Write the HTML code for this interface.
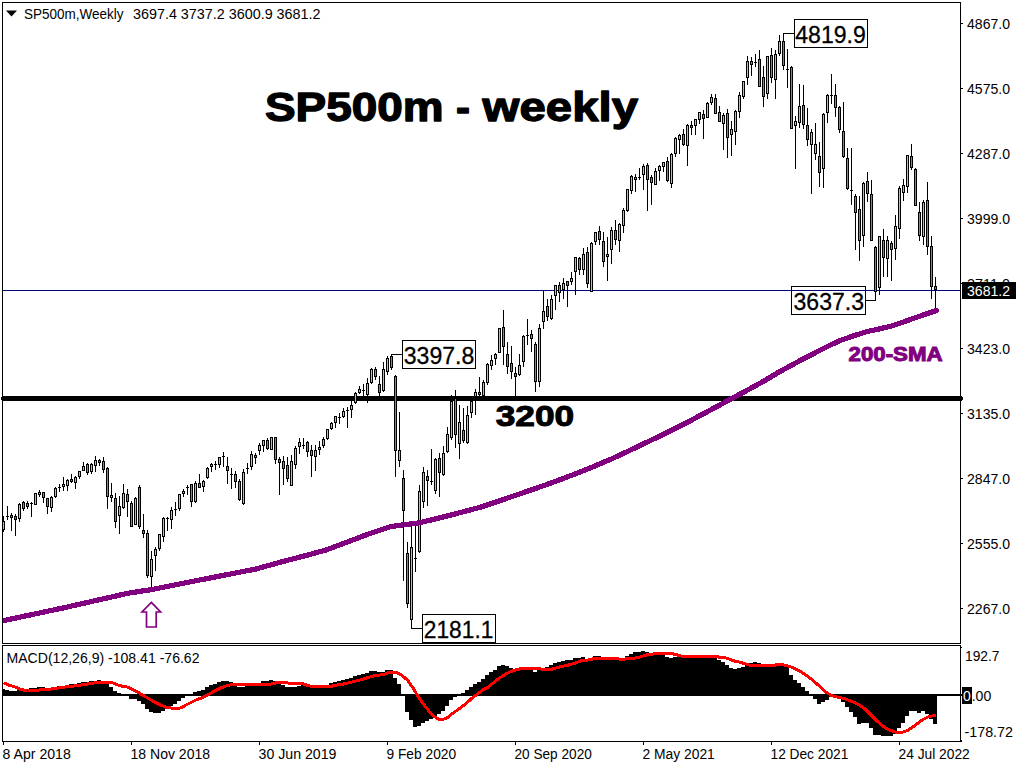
<!DOCTYPE html><html><head><meta charset="utf-8"><title>SP500m weekly</title>
<style>html,body{margin:0;padding:0;background:#fff;width:1024px;height:768px;overflow:hidden}svg{display:block}text{font-family:"Liberation Sans",sans-serif}</style></head><body>
<svg width="1024" height="768" viewBox="0 0 1024 768">
<rect x="0" y="0" width="1024" height="768" fill="#fff"/>
<g shape-rendering="crispEdges" fill="#000">
<rect x="2" y="2" width="959" height="1"/><rect x="2" y="2" width="1" height="642"/><rect x="960" y="2" width="1" height="642"/><rect x="2" y="643" width="959" height="1"/>
<rect x="2" y="645" width="959" height="1"/><rect x="2" y="645" width="1" height="97"/><rect x="960" y="645" width="1" height="97"/><rect x="2" y="741" width="959" height="1"/>
<rect x="961" y="23" width="2" height="1"/>
<rect x="961" y="88" width="2" height="1"/>
<rect x="961" y="153" width="2" height="1"/>
<rect x="961" y="218" width="2" height="1"/>
<rect x="961" y="283" width="2" height="1"/>
<rect x="961" y="348" width="2" height="1"/>
<rect x="961" y="413" width="2" height="1"/>
<rect x="961" y="478" width="2" height="1"/>
<rect x="961" y="543" width="2" height="1"/>
<rect x="961" y="608" width="2" height="1"/>
<rect x="961" y="647" width="1" height="1"/><rect x="961" y="740" width="1" height="2"/><rect x="961" y="694" width="1" height="2"/>
<rect x="3" y="742" width="1" height="3"/>
<rect x="131" y="742" width="1" height="3"/>
<rect x="259" y="742" width="1" height="3"/>
<rect x="387" y="742" width="1" height="3"/>
<rect x="515" y="742" width="1" height="3"/>
<rect x="643" y="742" width="1" height="3"/>
<rect x="771" y="742" width="1" height="3"/>
<rect x="899" y="742" width="1" height="3"/>
</g>
<g shape-rendering="crispEdges">
<rect x="2" y="396" width="960" height="5" fill="#000"/><rect x="1" y="397" width="962" height="3" fill="#000"/>
<rect x="3" y="290" width="957" height="1" fill="#000080"/>
</g>
<text x="264.9" y="121" font-size="40" font-weight="bold" lengthAdjust="spacingAndGlyphs" stroke="#000" stroke-width="1.3" stroke-linejoin="round" textLength="178.7">SP500m</text>
<text x="455.9" y="121" font-size="40" font-weight="bold" lengthAdjust="spacingAndGlyphs" stroke="#000" stroke-width="1.3" stroke-linejoin="round" textLength="14">-</text>
<text x="482.6" y="121" font-size="40" font-weight="bold" lengthAdjust="spacingAndGlyphs" stroke="#000" stroke-width="1.3" stroke-linejoin="round" textLength="155.5">weekly</text>
<g shape-rendering="crispEdges" fill="#000"><rect x="3" y="516" width="1" height="16"/><rect x="2" y="521" width="3" height="9"/><rect x="7" y="506" width="1" height="14"/><rect x="6" y="516" width="3" height="1"/><rect x="11" y="513" width="1" height="18"/><rect x="10" y="515" width="3" height="3"/><rect x="15" y="514" width="1" height="22"/><rect x="14" y="516" width="3" height="4"/><rect x="19" y="503" width="1" height="19"/><rect x="18" y="504" width="3" height="15"/><rect x="23" y="501" width="1" height="10"/><rect x="22" y="502" width="3" height="7"/><rect x="27" y="501" width="1" height="8"/><rect x="26" y="503" width="3" height="4"/><rect x="31" y="502" width="1" height="15"/><rect x="30" y="503" width="3" height="1"/><rect x="35" y="493" width="1" height="12"/><rect x="34" y="493" width="3" height="12"/><rect x="39" y="490" width="1" height="7"/><rect x="38" y="492" width="3" height="3"/><rect x="43" y="492" width="1" height="11"/><rect x="42" y="492" width="3" height="6"/><rect x="47" y="498" width="1" height="16"/><rect x="46" y="498" width="3" height="9"/><rect x="51" y="496" width="1" height="16"/><rect x="50" y="497" width="3" height="11"/><rect x="55" y="487" width="1" height="11"/><rect x="54" y="488" width="3" height="9"/><rect x="59" y="484" width="1" height="8"/><rect x="58" y="487" width="3" height="1"/><rect x="63" y="477" width="1" height="14"/><rect x="62" y="484" width="3" height="3"/><rect x="67" y="479" width="1" height="12"/><rect x="66" y="480" width="3" height="6"/><rect x="71" y="474" width="1" height="9"/><rect x="70" y="479" width="3" height="3"/><rect x="75" y="476" width="1" height="13"/><rect x="74" y="477" width="3" height="6"/><rect x="79" y="471" width="1" height="8"/><rect x="78" y="471" width="3" height="6"/><rect x="83" y="462" width="1" height="9"/><rect x="82" y="466" width="3" height="5"/><rect x="87" y="463" width="1" height="12"/><rect x="86" y="464" width="3" height="9"/><rect x="91" y="463" width="1" height="11"/><rect x="90" y="464" width="3" height="8"/><rect x="95" y="456" width="1" height="16"/><rect x="94" y="460" width="3" height="6"/><rect x="99" y="459" width="1" height="7"/><rect x="98" y="460" width="3" height="3"/><rect x="103" y="457" width="1" height="16"/><rect x="102" y="461" width="3" height="9"/><rect x="107" y="467" width="1" height="42"/><rect x="106" y="468" width="3" height="29"/><rect x="111" y="483" width="1" height="19"/><rect x="110" y="495" width="3" height="3"/><rect x="115" y="493" width="1" height="35"/><rect x="114" y="498" width="3" height="24"/><rect x="119" y="496" width="1" height="38"/><rect x="118" y="506" width="3" height="10"/><rect x="123" y="484" width="1" height="25"/><rect x="122" y="493" width="3" height="15"/><rect x="127" y="489" width="1" height="28"/><rect x="126" y="494" width="3" height="8"/><rect x="131" y="501" width="1" height="26"/><rect x="130" y="503" width="3" height="24"/><rect x="135" y="497" width="1" height="28"/><rect x="134" y="498" width="3" height="27"/><rect x="139" y="485" width="1" height="44"/><rect x="138" y="487" width="3" height="40"/><rect x="143" y="514" width="1" height="24"/><rect x="142" y="530" width="3" height="4"/><rect x="147" y="530" width="1" height="48"/><rect x="146" y="533" width="3" height="43"/><rect x="151" y="551" width="1" height="37"/><rect x="150" y="559" width="3" height="18"/><rect x="155" y="547" width="1" height="24"/><rect x="154" y="549" width="3" height="7"/><rect x="159" y="534" width="1" height="17"/><rect x="158" y="534" width="3" height="15"/><rect x="163" y="517" width="1" height="25"/><rect x="162" y="518" width="3" height="19"/><rect x="167" y="517" width="1" height="14"/><rect x="166" y="518" width="3" height="1"/><rect x="171" y="507" width="1" height="22"/><rect x="170" y="510" width="3" height="10"/><rect x="175" y="502" width="1" height="14"/><rect x="174" y="509" width="3" height="1"/><rect x="179" y="494" width="1" height="17"/><rect x="178" y="494" width="3" height="15"/><rect x="183" y="489" width="1" height="8"/><rect x="182" y="491" width="3" height="3"/><rect x="187" y="485" width="1" height="10"/><rect x="186" y="487" width="3" height="1"/><rect x="191" y="484" width="1" height="23"/><rect x="190" y="484" width="3" height="18"/><rect x="195" y="481" width="1" height="22"/><rect x="194" y="483" width="3" height="19"/><rect x="199" y="474" width="1" height="14"/><rect x="198" y="483" width="3" height="5"/><rect x="203" y="480" width="1" height="12"/><rect x="202" y="481" width="3" height="6"/><rect x="207" y="467" width="1" height="12"/><rect x="206" y="468" width="3" height="10"/><rect x="211" y="463" width="1" height="9"/><rect x="210" y="464" width="3" height="3"/><rect x="215" y="461" width="1" height="9"/><rect x="214" y="464" width="3" height="1"/><rect x="219" y="457" width="1" height="11"/><rect x="218" y="457" width="3" height="8"/><rect x="223" y="452" width="1" height="15"/><rect x="222" y="456" width="3" height="1"/><rect x="227" y="457" width="1" height="27"/><rect x="226" y="466" width="3" height="5"/><rect x="231" y="468" width="1" height="21"/><rect x="230" y="474" width="3" height="1"/><rect x="235" y="471" width="1" height="17"/><rect x="234" y="474" width="3" height="8"/><rect x="239" y="479" width="1" height="22"/><rect x="238" y="481" width="3" height="19"/><rect x="243" y="469" width="1" height="36"/><rect x="242" y="472" width="3" height="32"/><rect x="247" y="463" width="1" height="11"/><rect x="246" y="468" width="3" height="1"/><rect x="251" y="451" width="1" height="19"/><rect x="250" y="454" width="3" height="13"/><rect x="255" y="453" width="1" height="11"/><rect x="254" y="455" width="3" height="3"/><rect x="259" y="443" width="1" height="12"/><rect x="258" y="445" width="3" height="6"/><rect x="263" y="440" width="1" height="12"/><rect x="262" y="440" width="3" height="6"/><rect x="267" y="438" width="1" height="12"/><rect x="266" y="440" width="3" height="9"/><rect x="271" y="437" width="1" height="13"/><rect x="270" y="437" width="3" height="13"/><rect x="275" y="437" width="1" height="27"/><rect x="274" y="437" width="3" height="23"/><rect x="279" y="457" width="1" height="38"/><rect x="278" y="459" width="3" height="4"/><rect x="283" y="456" width="1" height="29"/><rect x="282" y="461" width="3" height="8"/><rect x="287" y="457" width="1" height="25"/><rect x="286" y="465" width="3" height="14"/><rect x="291" y="455" width="1" height="31"/><rect x="290" y="461" width="3" height="25"/><rect x="295" y="446" width="1" height="23"/><rect x="294" y="448" width="3" height="17"/><rect x="299" y="438" width="1" height="16"/><rect x="298" y="442" width="3" height="5"/><rect x="303" y="438" width="1" height="11"/><rect x="302" y="445" width="3" height="1"/><rect x="307" y="441" width="1" height="16"/><rect x="306" y="442" width="3" height="10"/><rect x="311" y="445" width="1" height="32"/><rect x="310" y="450" width="3" height="6"/><rect x="315" y="445" width="1" height="26"/><rect x="314" y="450" width="3" height="7"/><rect x="319" y="441" width="1" height="14"/><rect x="318" y="447" width="3" height="3"/><rect x="323" y="437" width="1" height="11"/><rect x="322" y="439" width="3" height="7"/><rect x="327" y="429" width="1" height="11"/><rect x="326" y="429" width="3" height="10"/><rect x="331" y="422" width="1" height="8"/><rect x="330" y="423" width="3" height="6"/><rect x="335" y="416" width="1" height="12"/><rect x="334" y="416" width="3" height="7"/><rect x="339" y="413" width="1" height="11"/><rect x="338" y="417" width="3" height="1"/><rect x="343" y="408" width="1" height="10"/><rect x="342" y="411" width="3" height="6"/><rect x="347" y="407" width="1" height="21"/><rect x="346" y="410" width="3" height="1"/><rect x="351" y="401" width="1" height="17"/><rect x="350" y="405" width="3" height="5"/><rect x="355" y="392" width="1" height="12"/><rect x="354" y="393" width="3" height="10"/><rect x="359" y="386" width="1" height="8"/><rect x="358" y="389" width="3" height="4"/><rect x="363" y="384" width="1" height="12"/><rect x="362" y="390" width="3" height="1"/><rect x="367" y="378" width="1" height="25"/><rect x="366" y="383" width="3" height="12"/><rect x="371" y="368" width="1" height="16"/><rect x="370" y="369" width="3" height="14"/><rect x="375" y="367" width="1" height="13"/><rect x="374" y="369" width="3" height="8"/><rect x="379" y="376" width="1" height="20"/><rect x="378" y="384" width="3" height="9"/><rect x="383" y="362" width="1" height="30"/><rect x="382" y="369" width="3" height="22"/><rect x="387" y="356" width="1" height="19"/><rect x="386" y="358" width="3" height="14"/><rect x="391" y="354" width="1" height="16"/><rect x="390" y="356" width="3" height="12"/><rect x="395" y="375" width="1" height="102"/><rect x="394" y="376" width="3" height="75"/><rect x="399" y="412" width="1" height="55"/><rect x="398" y="450" width="3" height="11"/><rect x="403" y="470" width="1" height="111"/><rect x="402" y="478" width="3" height="33"/><rect x="407" y="542" width="1" height="66"/><rect x="406" y="553" width="3" height="51"/><rect x="411" y="523" width="1" height="106"/><rect x="410" y="547" width="3" height="73"/><rect x="415" y="523" width="1" height="49"/><rect x="414" y="558" width="3" height="1"/><rect x="419" y="485" width="1" height="68"/><rect x="418" y="491" width="3" height="61"/><rect x="423" y="467" width="1" height="41"/><rect x="422" y="472" width="3" height="30"/><rect x="427" y="470" width="1" height="36"/><rect x="426" y="476" width="3" height="5"/><rect x="431" y="449" width="1" height="36"/><rect x="430" y="481" width="3" height="1"/><rect x="435" y="458" width="1" height="36"/><rect x="434" y="459" width="3" height="32"/><rect x="439" y="453" width="1" height="44"/><rect x="438" y="458" width="3" height="15"/><rect x="443" y="446" width="1" height="30"/><rect x="442" y="453" width="3" height="22"/><rect x="447" y="427" width="1" height="26"/><rect x="446" y="434" width="3" height="18"/><rect x="451" y="395" width="1" height="45"/><rect x="450" y="401" width="3" height="37"/><rect x="455" y="390" width="1" height="58"/><rect x="454" y="398" width="3" height="37"/><rect x="459" y="405" width="1" height="54"/><rect x="458" y="422" width="3" height="22"/><rect x="463" y="408" width="1" height="35"/><rect x="462" y="430" width="3" height="11"/><rect x="467" y="406" width="1" height="38"/><rect x="466" y="415" width="3" height="28"/><rect x="471" y="401" width="1" height="17"/><rect x="470" y="401" width="3" height="12"/><rect x="475" y="389" width="1" height="26"/><rect x="474" y="392" width="3" height="5"/><rect x="479" y="377" width="1" height="19"/><rect x="478" y="392" width="3" height="3"/><rect x="483" y="380" width="1" height="16"/><rect x="482" y="382" width="3" height="14"/><rect x="487" y="363" width="1" height="22"/><rect x="486" y="364" width="3" height="19"/><rect x="491" y="355" width="1" height="15"/><rect x="490" y="360" width="3" height="6"/><rect x="495" y="353" width="1" height="12"/><rect x="494" y="354" width="3" height="5"/><rect x="499" y="328" width="1" height="25"/><rect x="498" y="328" width="3" height="25"/><rect x="503" y="310" width="1" height="55"/><rect x="502" y="327" width="3" height="20"/><rect x="507" y="342" width="1" height="32"/><rect x="506" y="354" width="3" height="13"/><rect x="511" y="346" width="1" height="33"/><rect x="510" y="363" width="3" height="9"/><rect x="515" y="367" width="1" height="29"/><rect x="514" y="373" width="3" height="4"/><rect x="519" y="354" width="1" height="22"/><rect x="518" y="365" width="3" height="10"/><rect x="523" y="335" width="1" height="32"/><rect x="522" y="336" width="3" height="26"/><rect x="527" y="319" width="1" height="26"/><rect x="526" y="335" width="3" height="1"/><rect x="531" y="330" width="1" height="22"/><rect x="530" y="334" width="3" height="5"/><rect x="535" y="342" width="1" height="50"/><rect x="534" y="344" width="3" height="38"/><rect x="539" y="324" width="1" height="63"/><rect x="538" y="328" width="3" height="54"/><rect x="543" y="291" width="1" height="38"/><rect x="542" y="311" width="3" height="11"/><rect x="547" y="299" width="1" height="22"/><rect x="546" y="306" width="3" height="11"/><rect x="551" y="295" width="1" height="25"/><rect x="550" y="299" width="3" height="20"/><rect x="555" y="285" width="1" height="25"/><rect x="554" y="285" width="3" height="11"/><rect x="559" y="282" width="1" height="20"/><rect x="558" y="285" width="3" height="8"/><rect x="563" y="278" width="1" height="21"/><rect x="562" y="283" width="3" height="7"/><rect x="567" y="281" width="1" height="26"/><rect x="566" y="281" width="3" height="5"/><rect x="571" y="272" width="1" height="13"/><rect x="570" y="278" width="3" height="4"/><rect x="575" y="257" width="1" height="38"/><rect x="574" y="257" width="3" height="15"/><rect x="579" y="257" width="1" height="18"/><rect x="578" y="258" width="3" height="12"/><rect x="583" y="248" width="1" height="27"/><rect x="582" y="254" width="3" height="16"/><rect x="587" y="247" width="1" height="41"/><rect x="586" y="252" width="3" height="32"/><rect x="591" y="242" width="1" height="50"/><rect x="590" y="243" width="3" height="49"/><rect x="595" y="232" width="1" height="13"/><rect x="594" y="232" width="3" height="10"/><rect x="599" y="226" width="1" height="19"/><rect x="598" y="231" width="3" height="9"/><rect x="603" y="232" width="1" height="35"/><rect x="602" y="241" width="3" height="21"/><rect x="607" y="237" width="1" height="44"/><rect x="606" y="254" width="3" height="3"/><rect x="611" y="227" width="1" height="37"/><rect x="610" y="230" width="3" height="20"/><rect x="615" y="220" width="1" height="25"/><rect x="614" y="230" width="3" height="10"/><rect x="619" y="223" width="1" height="29"/><rect x="618" y="224" width="3" height="17"/><rect x="623" y="208" width="1" height="25"/><rect x="622" y="210" width="3" height="16"/><rect x="627" y="189" width="1" height="23"/><rect x="626" y="189" width="3" height="22"/><rect x="631" y="175" width="1" height="19"/><rect x="630" y="176" width="3" height="15"/><rect x="635" y="174" width="1" height="18"/><rect x="634" y="177" width="3" height="3"/><rect x="639" y="168" width="1" height="12"/><rect x="638" y="177" width="3" height="1"/><rect x="643" y="164" width="1" height="26"/><rect x="642" y="166" width="3" height="9"/><rect x="647" y="163" width="1" height="48"/><rect x="646" y="165" width="3" height="15"/><rect x="651" y="175" width="1" height="30"/><rect x="650" y="177" width="3" height="6"/><rect x="655" y="168" width="1" height="17"/><rect x="654" y="171" width="3" height="14"/><rect x="659" y="165" width="1" height="16"/><rect x="658" y="166" width="3" height="5"/><rect x="663" y="162" width="1" height="10"/><rect x="662" y="162" width="3" height="5"/><rect x="667" y="157" width="1" height="25"/><rect x="666" y="161" width="3" height="20"/><rect x="671" y="153" width="1" height="35"/><rect x="670" y="154" width="3" height="30"/><rect x="675" y="137" width="1" height="20"/><rect x="674" y="138" width="3" height="16"/><rect x="679" y="134" width="1" height="20"/><rect x="678" y="135" width="3" height="5"/><rect x="683" y="129" width="1" height="17"/><rect x="682" y="134" width="3" height="11"/><rect x="687" y="124" width="1" height="42"/><rect x="686" y="125" width="3" height="21"/><rect x="691" y="121" width="1" height="14"/><rect x="690" y="125" width="3" height="3"/><rect x="695" y="119" width="1" height="16"/><rect x="694" y="119" width="3" height="7"/><rect x="699" y="112" width="1" height="12"/><rect x="698" y="112" width="3" height="8"/><rect x="703" y="110" width="1" height="29"/><rect x="702" y="114" width="3" height="5"/><rect x="707" y="102" width="1" height="16"/><rect x="706" y="103" width="3" height="15"/><rect x="711" y="94" width="1" height="11"/><rect x="710" y="97" width="3" height="6"/><rect x="715" y="94" width="1" height="20"/><rect x="714" y="98" width="3" height="16"/><rect x="719" y="106" width="1" height="16"/><rect x="718" y="112" width="3" height="10"/><rect x="723" y="113" width="1" height="37"/><rect x="722" y="115" width="3" height="9"/><rect x="727" y="109" width="1" height="49"/><rect x="726" y="113" width="3" height="25"/><rect x="731" y="121" width="1" height="35"/><rect x="730" y="129" width="3" height="6"/><rect x="735" y="110" width="1" height="35"/><rect x="734" y="111" width="3" height="21"/><rect x="739" y="92" width="1" height="26"/><rect x="738" y="95" width="3" height="17"/><rect x="743" y="81" width="1" height="18"/><rect x="742" y="81" width="3" height="16"/><rect x="747" y="56" width="1" height="29"/><rect x="746" y="61" width="3" height="17"/><rect x="751" y="57" width="1" height="19"/><rect x="750" y="61" width="3" height="4"/><rect x="755" y="54" width="1" height="13"/><rect x="754" y="62" width="3" height="1"/><rect x="759" y="50" width="1" height="37"/><rect x="758" y="59" width="3" height="28"/><rect x="763" y="66" width="1" height="41"/><rect x="762" y="77" width="3" height="20"/><rect x="767" y="56" width="1" height="43"/><rect x="766" y="56" width="3" height="38"/><rect x="771" y="48" width="1" height="35"/><rect x="770" y="55" width="3" height="23"/><rect x="775" y="50" width="1" height="49"/><rect x="774" y="54" width="3" height="26"/><rect x="779" y="35" width="1" height="21"/><rect x="778" y="41" width="3" height="13"/><rect x="783" y="33" width="1" height="37"/><rect x="782" y="41" width="3" height="25"/><rect x="787" y="49" width="1" height="39"/><rect x="786" y="69" width="3" height="1"/><rect x="791" y="66" width="1" height="63"/><rect x="790" y="67" width="3" height="62"/><rect x="795" y="116" width="1" height="53"/><rect x="794" y="121" width="3" height="5"/><rect x="799" y="84" width="1" height="44"/><rect x="798" y="106" width="3" height="17"/><rect x="803" y="85" width="1" height="44"/><rect x="802" y="105" width="3" height="20"/><rect x="807" y="108" width="1" height="38"/><rect x="806" y="125" width="3" height="15"/><rect x="811" y="129" width="1" height="65"/><rect x="810" y="132" width="3" height="13"/><rect x="815" y="123" width="1" height="37"/><rect x="814" y="144" width="3" height="10"/><rect x="819" y="142" width="1" height="45"/><rect x="818" y="156" width="3" height="17"/><rect x="823" y="113" width="1" height="75"/><rect x="822" y="114" width="3" height="55"/><rect x="827" y="94" width="1" height="29"/><rect x="826" y="95" width="3" height="18"/><rect x="831" y="74" width="1" height="30"/><rect x="830" y="95" width="3" height="1"/><rect x="835" y="84" width="1" height="33"/><rect x="834" y="95" width="3" height="13"/><rect x="839" y="106" width="1" height="27"/><rect x="838" y="107" width="3" height="23"/><rect x="843" y="102" width="1" height="56"/><rect x="842" y="131" width="3" height="26"/><rect x="847" y="148" width="1" height="42"/><rect x="846" y="158" width="3" height="31"/><rect x="851" y="148" width="1" height="57"/><rect x="850" y="190" width="3" height="1"/><rect x="855" y="194" width="1" height="56"/><rect x="854" y="196" width="3" height="17"/><rect x="859" y="196" width="1" height="65"/><rect x="858" y="209" width="3" height="32"/><rect x="863" y="182" width="1" height="65"/><rect x="862" y="183" width="3" height="53"/><rect x="867" y="172" width="1" height="30"/><rect x="866" y="181" width="3" height="13"/><rect x="871" y="180" width="1" height="61"/><rect x="870" y="194" width="3" height="47"/><rect x="875" y="246" width="1" height="54"/><rect x="874" y="247" width="3" height="45"/><rect x="879" y="236" width="1" height="59"/><rect x="878" y="236" width="3" height="52"/><rect x="883" y="229" width="1" height="48"/><rect x="882" y="240" width="3" height="18"/><rect x="887" y="236" width="1" height="41"/><rect x="886" y="240" width="3" height="19"/><rect x="891" y="241" width="1" height="40"/><rect x="890" y="243" width="3" height="7"/><rect x="895" y="215" width="1" height="45"/><rect x="894" y="226" width="3" height="23"/><rect x="899" y="186" width="1" height="53"/><rect x="898" y="188" width="3" height="41"/><rect x="903" y="179" width="1" height="22"/><rect x="902" y="185" width="3" height="8"/><rect x="907" y="155" width="1" height="38"/><rect x="906" y="155" width="3" height="32"/><rect x="911" y="144" width="1" height="26"/><rect x="910" y="156" width="3" height="12"/><rect x="915" y="168" width="1" height="38"/><rect x="914" y="169" width="3" height="37"/><rect x="919" y="202" width="1" height="39"/><rect x="918" y="212" width="3" height="24"/><rect x="923" y="200" width="1" height="45"/><rect x="922" y="202" width="3" height="35"/><rect x="927" y="182" width="1" height="73"/><rect x="926" y="200" width="3" height="47"/><rect x="931" y="236" width="1" height="63"/><rect x="930" y="246" width="3" height="41"/><rect x="935" y="277" width="1" height="31"/><rect x="934" y="286" width="3" height="4"/></g>
<g shape-rendering="crispEdges"><rect x="3" y="522" width="1" height="7" fill="#BAD630"/><rect x="11" y="516" width="1" height="1" fill="#F06423"/><rect x="15" y="517" width="1" height="2" fill="#F06423"/><rect x="19" y="505" width="1" height="13" fill="#BAD630"/><rect x="23" y="503" width="1" height="5" fill="#F06423"/><rect x="27" y="504" width="1" height="2" fill="#F06423"/><rect x="35" y="494" width="1" height="10" fill="#BAD630"/><rect x="39" y="493" width="1" height="1" fill="#BAD630"/><rect x="43" y="493" width="1" height="4" fill="#F06423"/><rect x="47" y="499" width="1" height="7" fill="#F06423"/><rect x="51" y="498" width="1" height="9" fill="#BAD630"/><rect x="55" y="489" width="1" height="7" fill="#BAD630"/><rect x="63" y="485" width="1" height="1" fill="#BAD630"/><rect x="67" y="481" width="1" height="4" fill="#BAD630"/><rect x="71" y="480" width="1" height="1" fill="#F06423"/><rect x="75" y="478" width="1" height="4" fill="#BAD630"/><rect x="79" y="472" width="1" height="4" fill="#BAD630"/><rect x="83" y="467" width="1" height="3" fill="#BAD630"/><rect x="87" y="465" width="1" height="7" fill="#F06423"/><rect x="91" y="465" width="1" height="6" fill="#BAD630"/><rect x="95" y="461" width="1" height="4" fill="#BAD630"/><rect x="99" y="461" width="1" height="1" fill="#F06423"/><rect x="103" y="462" width="1" height="7" fill="#F06423"/><rect x="107" y="469" width="1" height="27" fill="#F06423"/><rect x="111" y="496" width="1" height="1" fill="#BAD630"/><rect x="115" y="499" width="1" height="22" fill="#F06423"/><rect x="119" y="507" width="1" height="8" fill="#BAD630"/><rect x="123" y="494" width="1" height="13" fill="#BAD630"/><rect x="127" y="495" width="1" height="6" fill="#F06423"/><rect x="131" y="504" width="1" height="22" fill="#F06423"/><rect x="135" y="499" width="1" height="25" fill="#BAD630"/><rect x="139" y="488" width="1" height="38" fill="#F06423"/><rect x="143" y="531" width="1" height="2" fill="#F06423"/><rect x="147" y="534" width="1" height="41" fill="#F06423"/><rect x="151" y="560" width="1" height="16" fill="#BAD630"/><rect x="155" y="550" width="1" height="5" fill="#BAD630"/><rect x="159" y="535" width="1" height="13" fill="#BAD630"/><rect x="163" y="519" width="1" height="17" fill="#BAD630"/><rect x="171" y="511" width="1" height="8" fill="#BAD630"/><rect x="179" y="495" width="1" height="13" fill="#BAD630"/><rect x="183" y="492" width="1" height="1" fill="#BAD630"/><rect x="191" y="485" width="1" height="16" fill="#F06423"/><rect x="195" y="484" width="1" height="17" fill="#BAD630"/><rect x="199" y="484" width="1" height="3" fill="#F06423"/><rect x="203" y="482" width="1" height="4" fill="#BAD630"/><rect x="207" y="469" width="1" height="8" fill="#BAD630"/><rect x="211" y="465" width="1" height="1" fill="#BAD630"/><rect x="219" y="458" width="1" height="6" fill="#BAD630"/><rect x="227" y="467" width="1" height="3" fill="#F06423"/><rect x="235" y="475" width="1" height="6" fill="#F06423"/><rect x="239" y="482" width="1" height="17" fill="#F06423"/><rect x="243" y="473" width="1" height="30" fill="#BAD630"/><rect x="251" y="455" width="1" height="11" fill="#BAD630"/><rect x="255" y="456" width="1" height="1" fill="#F06423"/><rect x="259" y="446" width="1" height="4" fill="#BAD630"/><rect x="263" y="441" width="1" height="4" fill="#BAD630"/><rect x="267" y="441" width="1" height="7" fill="#F06423"/><rect x="271" y="438" width="1" height="11" fill="#BAD630"/><rect x="275" y="438" width="1" height="21" fill="#F06423"/><rect x="279" y="460" width="1" height="2" fill="#F06423"/><rect x="283" y="462" width="1" height="6" fill="#F06423"/><rect x="287" y="466" width="1" height="12" fill="#F06423"/><rect x="291" y="462" width="1" height="23" fill="#BAD630"/><rect x="295" y="449" width="1" height="15" fill="#BAD630"/><rect x="299" y="443" width="1" height="3" fill="#BAD630"/><rect x="307" y="443" width="1" height="8" fill="#F06423"/><rect x="311" y="451" width="1" height="4" fill="#F06423"/><rect x="315" y="451" width="1" height="5" fill="#BAD630"/><rect x="319" y="448" width="1" height="1" fill="#BAD630"/><rect x="323" y="440" width="1" height="5" fill="#BAD630"/><rect x="327" y="430" width="1" height="8" fill="#BAD630"/><rect x="331" y="424" width="1" height="4" fill="#BAD630"/><rect x="335" y="417" width="1" height="5" fill="#BAD630"/><rect x="343" y="412" width="1" height="4" fill="#BAD630"/><rect x="351" y="406" width="1" height="3" fill="#BAD630"/><rect x="355" y="394" width="1" height="8" fill="#BAD630"/><rect x="359" y="390" width="1" height="2" fill="#BAD630"/><rect x="367" y="384" width="1" height="10" fill="#BAD630"/><rect x="371" y="370" width="1" height="12" fill="#BAD630"/><rect x="375" y="370" width="1" height="6" fill="#F06423"/><rect x="379" y="385" width="1" height="7" fill="#F06423"/><rect x="383" y="370" width="1" height="20" fill="#BAD630"/><rect x="387" y="359" width="1" height="12" fill="#BAD630"/><rect x="391" y="357" width="1" height="10" fill="#F06423"/><rect x="395" y="377" width="1" height="73" fill="#F06423"/><rect x="399" y="451" width="1" height="9" fill="#BAD630"/><rect x="403" y="479" width="1" height="31" fill="#F06423"/><rect x="407" y="554" width="1" height="49" fill="#F06423"/><rect x="411" y="548" width="1" height="71" fill="#BAD630"/><rect x="419" y="492" width="1" height="59" fill="#BAD630"/><rect x="423" y="473" width="1" height="28" fill="#BAD630"/><rect x="427" y="477" width="1" height="3" fill="#F06423"/><rect x="435" y="460" width="1" height="30" fill="#BAD630"/><rect x="439" y="459" width="1" height="13" fill="#F06423"/><rect x="443" y="454" width="1" height="20" fill="#BAD630"/><rect x="447" y="435" width="1" height="16" fill="#BAD630"/><rect x="451" y="402" width="1" height="35" fill="#BAD630"/><rect x="455" y="399" width="1" height="35" fill="#F06423"/><rect x="459" y="423" width="1" height="20" fill="#BAD630"/><rect x="463" y="431" width="1" height="9" fill="#F06423"/><rect x="467" y="416" width="1" height="26" fill="#BAD630"/><rect x="471" y="402" width="1" height="10" fill="#BAD630"/><rect x="475" y="393" width="1" height="3" fill="#BAD630"/><rect x="479" y="393" width="1" height="1" fill="#F06423"/><rect x="483" y="383" width="1" height="12" fill="#BAD630"/><rect x="487" y="365" width="1" height="17" fill="#BAD630"/><rect x="491" y="361" width="1" height="4" fill="#BAD630"/><rect x="495" y="355" width="1" height="3" fill="#BAD630"/><rect x="499" y="329" width="1" height="23" fill="#BAD630"/><rect x="503" y="328" width="1" height="18" fill="#F06423"/><rect x="507" y="355" width="1" height="11" fill="#F06423"/><rect x="511" y="364" width="1" height="7" fill="#F06423"/><rect x="515" y="374" width="1" height="2" fill="#F06423"/><rect x="519" y="366" width="1" height="8" fill="#BAD630"/><rect x="523" y="337" width="1" height="24" fill="#BAD630"/><rect x="531" y="335" width="1" height="3" fill="#F06423"/><rect x="535" y="345" width="1" height="36" fill="#F06423"/><rect x="539" y="329" width="1" height="52" fill="#BAD630"/><rect x="543" y="312" width="1" height="9" fill="#BAD630"/><rect x="547" y="307" width="1" height="9" fill="#F06423"/><rect x="551" y="300" width="1" height="18" fill="#BAD630"/><rect x="555" y="286" width="1" height="9" fill="#BAD630"/><rect x="559" y="286" width="1" height="6" fill="#F06423"/><rect x="563" y="284" width="1" height="5" fill="#BAD630"/><rect x="567" y="282" width="1" height="3" fill="#F06423"/><rect x="571" y="279" width="1" height="2" fill="#BAD630"/><rect x="575" y="258" width="1" height="13" fill="#BAD630"/><rect x="579" y="259" width="1" height="10" fill="#F06423"/><rect x="583" y="255" width="1" height="14" fill="#BAD630"/><rect x="587" y="253" width="1" height="30" fill="#F06423"/><rect x="591" y="244" width="1" height="47" fill="#BAD630"/><rect x="595" y="233" width="1" height="8" fill="#BAD630"/><rect x="599" y="232" width="1" height="7" fill="#F06423"/><rect x="603" y="242" width="1" height="19" fill="#F06423"/><rect x="607" y="255" width="1" height="1" fill="#BAD630"/><rect x="611" y="231" width="1" height="18" fill="#BAD630"/><rect x="615" y="231" width="1" height="8" fill="#F06423"/><rect x="619" y="225" width="1" height="15" fill="#BAD630"/><rect x="623" y="211" width="1" height="14" fill="#BAD630"/><rect x="627" y="190" width="1" height="20" fill="#BAD630"/><rect x="631" y="177" width="1" height="13" fill="#BAD630"/><rect x="635" y="178" width="1" height="1" fill="#BAD630"/><rect x="643" y="167" width="1" height="7" fill="#BAD630"/><rect x="647" y="166" width="1" height="13" fill="#F06423"/><rect x="651" y="178" width="1" height="4" fill="#F06423"/><rect x="655" y="172" width="1" height="12" fill="#BAD630"/><rect x="659" y="167" width="1" height="3" fill="#BAD630"/><rect x="663" y="163" width="1" height="3" fill="#BAD630"/><rect x="667" y="162" width="1" height="18" fill="#F06423"/><rect x="671" y="155" width="1" height="28" fill="#BAD630"/><rect x="675" y="139" width="1" height="14" fill="#BAD630"/><rect x="679" y="136" width="1" height="3" fill="#BAD630"/><rect x="683" y="135" width="1" height="9" fill="#F06423"/><rect x="687" y="126" width="1" height="19" fill="#BAD630"/><rect x="691" y="126" width="1" height="1" fill="#F06423"/><rect x="695" y="120" width="1" height="5" fill="#BAD630"/><rect x="699" y="113" width="1" height="6" fill="#BAD630"/><rect x="703" y="115" width="1" height="3" fill="#F06423"/><rect x="707" y="104" width="1" height="13" fill="#BAD630"/><rect x="711" y="98" width="1" height="4" fill="#BAD630"/><rect x="715" y="99" width="1" height="14" fill="#F06423"/><rect x="719" y="113" width="1" height="8" fill="#F06423"/><rect x="723" y="116" width="1" height="7" fill="#BAD630"/><rect x="727" y="114" width="1" height="23" fill="#F06423"/><rect x="731" y="130" width="1" height="4" fill="#BAD630"/><rect x="735" y="112" width="1" height="19" fill="#BAD630"/><rect x="739" y="96" width="1" height="15" fill="#BAD630"/><rect x="743" y="82" width="1" height="14" fill="#BAD630"/><rect x="747" y="62" width="1" height="15" fill="#BAD630"/><rect x="751" y="62" width="1" height="2" fill="#F06423"/><rect x="759" y="60" width="1" height="26" fill="#F06423"/><rect x="763" y="78" width="1" height="18" fill="#F06423"/><rect x="767" y="57" width="1" height="36" fill="#BAD630"/><rect x="771" y="56" width="1" height="21" fill="#F06423"/><rect x="775" y="55" width="1" height="24" fill="#BAD630"/><rect x="779" y="42" width="1" height="11" fill="#BAD630"/><rect x="783" y="42" width="1" height="23" fill="#F06423"/><rect x="791" y="68" width="1" height="60" fill="#F06423"/><rect x="795" y="122" width="1" height="3" fill="#BAD630"/><rect x="799" y="107" width="1" height="15" fill="#BAD630"/><rect x="803" y="106" width="1" height="18" fill="#F06423"/><rect x="807" y="126" width="1" height="13" fill="#F06423"/><rect x="811" y="133" width="1" height="11" fill="#BAD630"/><rect x="815" y="145" width="1" height="8" fill="#BAD630"/><rect x="819" y="157" width="1" height="15" fill="#F06423"/><rect x="823" y="115" width="1" height="53" fill="#BAD630"/><rect x="827" y="96" width="1" height="16" fill="#BAD630"/><rect x="835" y="96" width="1" height="11" fill="#F06423"/><rect x="839" y="108" width="1" height="21" fill="#F06423"/><rect x="843" y="132" width="1" height="24" fill="#F06423"/><rect x="847" y="159" width="1" height="29" fill="#F06423"/><rect x="855" y="197" width="1" height="15" fill="#F06423"/><rect x="859" y="210" width="1" height="30" fill="#F06423"/><rect x="863" y="184" width="1" height="51" fill="#BAD630"/><rect x="867" y="182" width="1" height="11" fill="#F06423"/><rect x="871" y="195" width="1" height="45" fill="#F06423"/><rect x="875" y="248" width="1" height="43" fill="#F06423"/><rect x="879" y="237" width="1" height="50" fill="#BAD630"/><rect x="883" y="241" width="1" height="16" fill="#F06423"/><rect x="887" y="241" width="1" height="17" fill="#BAD630"/><rect x="891" y="244" width="1" height="5" fill="#F06423"/><rect x="895" y="227" width="1" height="21" fill="#BAD630"/><rect x="899" y="189" width="1" height="39" fill="#BAD630"/><rect x="903" y="186" width="1" height="6" fill="#BAD630"/><rect x="907" y="156" width="1" height="30" fill="#BAD630"/><rect x="911" y="157" width="1" height="10" fill="#F06423"/><rect x="915" y="170" width="1" height="35" fill="#F06423"/><rect x="919" y="213" width="1" height="22" fill="#F06423"/><rect x="923" y="203" width="1" height="33" fill="#BAD630"/><rect x="927" y="201" width="1" height="45" fill="#F06423"/><rect x="931" y="247" width="1" height="39" fill="#F06423"/><rect x="935" y="287" width="1" height="2" fill="#F06423"/></g>
<clipPath id="cp"><rect x="3" y="3" width="957" height="640"/></clipPath>
<polyline clip-path="url(#cp)" points="3,620.75 64,607.75 128,593.25 152,589.5 192,581.5 256,569 281,562 306,555.5 326,550 343.5,543.5 368.5,534 391,526.5 406,524.5 418.5,523 431,520 456,513.75 481,507 506,498.6 512,496.5 537,488 562,479 587,469.3 612,458.7 637,447 662,435 687,422.5 712,409.2 737,395.7 762,382.2 779,372 804,358.5 829,345.7 841.5,340 854,335.7 866.5,331.7 879,329 891.5,326 904,321.8 916.5,317.3 929,313 936.5,310.5" fill="none" stroke="#800080" stroke-width="5.2" stroke-linejoin="round" stroke-linecap="round" shape-rendering="crispEdges"/>
<text x="535" y="426" font-size="29.9" font-weight="bold" text-anchor="middle" textLength="78.5" lengthAdjust="spacingAndGlyphs" stroke="#000" stroke-width="1.0">3200</text>
<text x="895.5" y="361" font-size="19.8" font-weight="bold" text-anchor="middle" textLength="94" lengthAdjust="spacingAndGlyphs" fill="#800080" stroke="#800080" stroke-width="1.0">200-SMA</text>
<path d="M151.3 602.4 L160.6 612 L156.2 612 L156.2 627 L146.5 627 L146.5 612 L142 612 Z" fill="#fff" stroke="#800080" stroke-width="1.7" stroke-linejoin="miter"/>
<g shape-rendering="crispEdges" fill="none" stroke="#000" stroke-width="1">
<polyline points="391.5,355 391.5,354.5 402,354.5"/>
<polyline points="783.5,34 783.5,33.5 794,33.5"/>
<polyline points="411.5,620 411.5,628.5 422,628.5"/>
<polyline points="875.5,292 875.5,300.5 866,300.5"/>
</g>
<rect x="402.5" y="340.5" width="73" height="28" fill="#fff" stroke="#000" stroke-width="1" shape-rendering="crispEdges"/>
<text x="403.8" y="363.6" font-size="24.6" textLength="70.5" lengthAdjust="spacingAndGlyphs" stroke="#000" stroke-width="0.3">3397.8</text>
<rect x="794.5" y="19.5" width="73" height="28" fill="#fff" stroke="#000" stroke-width="1" shape-rendering="crispEdges"/>
<text x="795.3" y="43" font-size="24.6" textLength="70.5" lengthAdjust="spacingAndGlyphs" stroke="#000" stroke-width="0.3">4819.9</text>
<rect x="422.5" y="614.5" width="73" height="28" fill="#fff" stroke="#000" stroke-width="1" shape-rendering="crispEdges"/>
<text x="423.8" y="637.8" font-size="24.6" textLength="69.6" lengthAdjust="spacingAndGlyphs" stroke="#000" stroke-width="0.3">2181.1</text>
<rect x="791.5" y="286.5" width="74" height="28" fill="none" stroke="#000" stroke-width="1" shape-rendering="crispEdges"/>
<text x="793.5" y="310.1" font-size="24.6" textLength="70.5" lengthAdjust="spacingAndGlyphs" stroke="#000" stroke-width="0.3">3637.3</text>
<path d="M6 10.5 L17 10.5 L11.5 16.5 Z" fill="#000"/>
<text x="24" y="19" font-size="14" textLength="99.5" lengthAdjust="spacingAndGlyphs">SP500m,Weekly</text>
<text x="133" y="19" font-size="14" textLength="187.5" lengthAdjust="spacingAndGlyphs">3697.4 3737.2 3600.9 3681.2</text>
<text x="967" y="29" font-size="14" textLength="43" lengthAdjust="spacingAndGlyphs">4867.0</text>
<text x="967" y="94" font-size="14" textLength="43" lengthAdjust="spacingAndGlyphs">4575.0</text>
<text x="967" y="159" font-size="14" textLength="43" lengthAdjust="spacingAndGlyphs">4287.0</text>
<text x="967" y="224" font-size="14" textLength="43" lengthAdjust="spacingAndGlyphs">3999.0</text>
<text x="967" y="289" font-size="14" textLength="43" lengthAdjust="spacingAndGlyphs">3711.0</text>
<text x="967" y="354" font-size="14" textLength="43" lengthAdjust="spacingAndGlyphs">3423.0</text>
<text x="967" y="419" font-size="14" textLength="43" lengthAdjust="spacingAndGlyphs">3135.0</text>
<text x="967" y="484" font-size="14" textLength="43" lengthAdjust="spacingAndGlyphs">2847.0</text>
<text x="967" y="549" font-size="14" textLength="43" lengthAdjust="spacingAndGlyphs">2555.0</text>
<text x="967" y="614" font-size="14" textLength="43" lengthAdjust="spacingAndGlyphs">2267.0</text>
<rect x="962" y="282" width="54" height="17" fill="#000" shape-rendering="crispEdges"/>
<text x="967" y="296" font-size="14" fill="#fff" textLength="43" lengthAdjust="spacingAndGlyphs">3681.2</text>
<g shape-rendering="crispEdges" fill="#000"><rect x="3" y="689" width="2" height="7"/><rect x="5" y="690" width="4" height="6"/><rect x="9" y="691" width="4" height="5"/><rect x="13" y="691" width="4" height="5"/><rect x="17" y="690" width="4" height="6"/><rect x="21" y="689" width="4" height="7"/><rect x="25" y="689" width="4" height="7"/><rect x="29" y="688" width="4" height="8"/><rect x="33" y="688" width="4" height="8"/><rect x="37" y="687" width="4" height="9"/><rect x="41" y="687" width="4" height="9"/><rect x="45" y="688" width="4" height="8"/><rect x="49" y="688" width="4" height="8"/><rect x="53" y="687" width="4" height="9"/><rect x="57" y="686" width="4" height="10"/><rect x="61" y="686" width="4" height="10"/><rect x="65" y="685" width="4" height="11"/><rect x="69" y="684" width="4" height="12"/><rect x="73" y="684" width="4" height="12"/><rect x="77" y="683" width="4" height="13"/><rect x="81" y="682" width="4" height="14"/><rect x="85" y="682" width="4" height="14"/><rect x="89" y="681" width="4" height="15"/><rect x="93" y="681" width="4" height="15"/><rect x="97" y="680" width="4" height="16"/><rect x="101" y="681" width="4" height="15"/><rect x="105" y="683" width="4" height="13"/><rect x="109" y="687" width="4" height="9"/><rect x="113" y="691" width="4" height="5"/><rect x="117" y="693" width="4" height="3"/><rect x="121" y="694" width="4" height="2"/><rect x="125" y="694" width="4" height="2"/><rect x="129" y="695" width="4" height="4"/><rect x="133" y="695" width="4" height="4"/><rect x="137" y="695" width="4" height="6"/><rect x="141" y="695" width="4" height="9"/><rect x="145" y="695" width="4" height="14"/><rect x="149" y="695" width="4" height="17"/><rect x="153" y="695" width="4" height="18"/><rect x="157" y="695" width="4" height="18"/><rect x="161" y="695" width="4" height="16"/><rect x="165" y="695" width="4" height="11"/><rect x="169" y="695" width="4" height="11"/><rect x="173" y="695" width="4" height="9"/><rect x="177" y="695" width="4" height="6"/><rect x="181" y="695" width="4" height="3"/><rect x="193" y="692" width="4" height="4"/><rect x="197" y="691" width="4" height="5"/><rect x="201" y="690" width="4" height="6"/><rect x="205" y="687" width="4" height="9"/><rect x="209" y="685" width="4" height="11"/><rect x="213" y="684" width="4" height="12"/><rect x="217" y="682" width="4" height="14"/><rect x="221" y="681" width="4" height="15"/><rect x="225" y="681" width="4" height="15"/><rect x="229" y="682" width="4" height="14"/><rect x="233" y="684" width="4" height="12"/><rect x="237" y="687" width="4" height="9"/><rect x="241" y="687" width="4" height="9"/><rect x="245" y="685" width="4" height="11"/><rect x="249" y="684" width="4" height="12"/><rect x="253" y="683" width="4" height="13"/><rect x="257" y="684" width="4" height="12"/><rect x="261" y="681" width="4" height="15"/><rect x="265" y="681" width="4" height="15"/><rect x="269" y="680" width="4" height="16"/><rect x="273" y="681" width="4" height="15"/><rect x="277" y="684" width="4" height="12"/><rect x="281" y="685" width="4" height="11"/><rect x="285" y="687" width="4" height="9"/><rect x="289" y="687" width="4" height="9"/><rect x="293" y="687" width="4" height="9"/><rect x="297" y="686" width="4" height="10"/><rect x="301" y="685" width="4" height="11"/><rect x="305" y="686" width="4" height="10"/><rect x="309" y="686" width="4" height="10"/><rect x="313" y="686" width="4" height="10"/><rect x="317" y="686" width="4" height="10"/><rect x="321" y="686" width="4" height="10"/><rect x="325" y="685" width="4" height="11"/><rect x="329" y="683" width="4" height="13"/><rect x="333" y="682" width="4" height="14"/><rect x="337" y="681" width="4" height="15"/><rect x="341" y="680" width="4" height="16"/><rect x="345" y="679" width="4" height="17"/><rect x="349" y="678" width="4" height="18"/><rect x="353" y="676" width="4" height="20"/><rect x="357" y="675" width="4" height="21"/><rect x="361" y="674" width="4" height="22"/><rect x="365" y="673" width="4" height="23"/><rect x="369" y="671" width="4" height="25"/><rect x="373" y="671" width="4" height="25"/><rect x="377" y="672" width="4" height="24"/><rect x="381" y="672" width="4" height="24"/><rect x="385" y="670" width="4" height="26"/><rect x="389" y="670" width="4" height="26"/><rect x="393" y="678" width="4" height="18"/><rect x="397" y="684" width="4" height="12"/><rect x="405" y="695" width="4" height="17"/><rect x="409" y="695" width="4" height="25"/><rect x="413" y="695" width="4" height="32"/><rect x="417" y="695" width="4" height="31"/><rect x="421" y="695" width="4" height="28"/><rect x="425" y="695" width="4" height="26"/><rect x="429" y="695" width="4" height="24"/><rect x="433" y="695" width="4" height="21"/><rect x="437" y="695" width="4" height="19"/><rect x="441" y="695" width="4" height="16"/><rect x="445" y="695" width="4" height="11"/><rect x="449" y="695" width="4" height="5"/><rect x="453" y="695" width="4" height="2"/><rect x="461" y="693" width="4" height="3"/><rect x="465" y="690" width="4" height="6"/><rect x="469" y="687" width="4" height="9"/><rect x="473" y="684" width="4" height="12"/><rect x="477" y="682" width="4" height="14"/><rect x="481" y="679" width="4" height="17"/><rect x="485" y="675" width="4" height="21"/><rect x="489" y="672" width="4" height="24"/><rect x="493" y="670" width="4" height="26"/><rect x="497" y="666" width="4" height="30"/><rect x="501" y="665" width="4" height="31"/><rect x="505" y="666" width="4" height="30"/><rect x="509" y="668" width="4" height="28"/><rect x="513" y="669" width="4" height="27"/><rect x="517" y="669" width="4" height="27"/><rect x="521" y="669" width="4" height="27"/><rect x="525" y="669" width="4" height="27"/><rect x="529" y="670" width="4" height="26"/><rect x="533" y="672" width="4" height="24"/><rect x="537" y="670" width="4" height="26"/><rect x="541" y="668" width="4" height="28"/><rect x="545" y="667" width="4" height="29"/><rect x="549" y="665" width="4" height="31"/><rect x="553" y="663" width="4" height="33"/><rect x="557" y="662" width="4" height="34"/><rect x="561" y="661" width="4" height="35"/><rect x="565" y="660" width="4" height="36"/><rect x="569" y="660" width="4" height="36"/><rect x="573" y="658" width="4" height="38"/><rect x="577" y="658" width="4" height="38"/><rect x="581" y="657" width="4" height="39"/><rect x="585" y="659" width="4" height="37"/><rect x="589" y="658" width="4" height="38"/><rect x="593" y="656" width="4" height="40"/><rect x="597" y="656" width="4" height="40"/><rect x="601" y="657" width="4" height="39"/><rect x="605" y="658" width="4" height="38"/><rect x="609" y="658" width="4" height="38"/><rect x="613" y="658" width="4" height="38"/><rect x="617" y="658" width="4" height="38"/><rect x="621" y="658" width="4" height="38"/><rect x="625" y="656" width="4" height="40"/><rect x="629" y="654" width="4" height="42"/><rect x="633" y="652" width="4" height="44"/><rect x="637" y="652" width="4" height="44"/><rect x="641" y="651" width="4" height="45"/><rect x="645" y="652" width="4" height="44"/><rect x="649" y="654" width="4" height="42"/><rect x="653" y="655" width="4" height="41"/><rect x="657" y="655" width="4" height="41"/><rect x="661" y="655" width="4" height="41"/><rect x="665" y="657" width="4" height="39"/><rect x="669" y="658" width="4" height="38"/><rect x="673" y="657" width="4" height="39"/><rect x="677" y="656" width="4" height="40"/><rect x="681" y="657" width="4" height="39"/><rect x="685" y="657" width="4" height="39"/><rect x="689" y="657" width="4" height="39"/><rect x="693" y="657" width="4" height="39"/><rect x="697" y="657" width="4" height="39"/><rect x="701" y="657" width="4" height="39"/><rect x="705" y="657" width="4" height="39"/><rect x="709" y="657" width="4" height="39"/><rect x="713" y="658" width="4" height="38"/><rect x="717" y="660" width="4" height="36"/><rect x="721" y="662" width="4" height="34"/><rect x="725" y="665" width="4" height="31"/><rect x="729" y="668" width="4" height="28"/><rect x="733" y="669" width="4" height="27"/><rect x="737" y="668" width="4" height="28"/><rect x="741" y="667" width="4" height="29"/><rect x="745" y="664" width="4" height="32"/><rect x="749" y="663" width="4" height="33"/><rect x="753" y="662" width="4" height="34"/><rect x="757" y="663" width="4" height="33"/><rect x="761" y="665" width="4" height="31"/><rect x="765" y="665" width="4" height="31"/><rect x="769" y="665" width="4" height="31"/><rect x="773" y="665" width="4" height="31"/><rect x="777" y="666" width="4" height="30"/><rect x="781" y="666" width="4" height="30"/><rect x="785" y="667" width="4" height="29"/><rect x="789" y="675" width="4" height="21"/><rect x="793" y="680" width="4" height="16"/><rect x="797" y="683" width="4" height="13"/><rect x="801" y="687" width="4" height="9"/><rect x="805" y="691" width="4" height="5"/><rect x="813" y="695" width="4" height="4"/><rect x="817" y="695" width="4" height="9"/><rect x="821" y="695" width="4" height="7"/><rect x="825" y="695" width="4" height="5"/><rect x="829" y="695" width="4" height="2"/><rect x="837" y="695" width="4" height="2"/><rect x="841" y="695" width="4" height="7"/><rect x="845" y="695" width="4" height="12"/><rect x="849" y="695" width="4" height="17"/><rect x="853" y="695" width="4" height="22"/><rect x="857" y="695" width="4" height="29"/><rect x="861" y="695" width="4" height="28"/><rect x="865" y="695" width="4" height="28"/><rect x="869" y="695" width="4" height="33"/><rect x="873" y="695" width="4" height="40"/><rect x="877" y="695" width="4" height="40"/><rect x="881" y="695" width="4" height="41"/><rect x="885" y="695" width="4" height="41"/><rect x="889" y="695" width="4" height="41"/><rect x="893" y="695" width="4" height="39"/><rect x="897" y="695" width="4" height="33"/><rect x="901" y="695" width="4" height="28"/><rect x="905" y="695" width="4" height="21"/><rect x="909" y="695" width="4" height="16"/><rect x="913" y="695" width="4" height="16"/><rect x="917" y="695" width="4" height="18"/><rect x="921" y="695" width="4" height="16"/><rect x="925" y="695" width="4" height="19"/><rect x="929" y="695" width="4" height="24"/><rect x="933" y="695" width="4" height="29"/><rect x="3" y="694" width="957" height="2"/></g>
<polyline points="3.5,682.75 7.5,684.62 11.5,685.88 15.5,687.12 19.5,689 23.5,690 27.5,690.5 31.5,690.5 35.5,690.25 39.5,690 43.5,689.38 47.5,689.38 51.5,689 55.5,688.38 59.5,687.75 63.5,687.12 67.5,686.75 71.5,686.25 75.5,685.88 79.5,685.25 83.5,684.62 87.5,684 91.5,683.38 95.5,682.75 99.5,682.12 103.5,682.12 107.5,682.12 111.5,682.5 115.5,684 119.5,685.5 123.5,686.5 128,687.12 135.5,690.88 143,695.25 151.5,700.25 159.5,704.62 167.5,707.75 175.5,708.38 180.5,708 187.5,704.25 195.5,700.25 203.5,697.12 211.5,692.75 219.5,688.38 227.5,685.5 235.5,684 243.5,684 256,684.25 263.5,684.25 271.5,684 275.5,683 283.5,682.12 287.5,683 295.5,683 303.5,684 307.5,685.25 311.5,686.5 319.5,686.5 327.5,686.5 331.5,686.25 335.5,685.25 343.5,684 351.5,682.12 359.5,680.25 367.5,677.75 375.5,675.5 384,674.5 389,672.38 395.25,672 401.5,674.88 407.5,680.25 412.75,687.38 417.75,696.12 423.5,704.25 429,711.12 434,716.5 439,719.25 443.5,719.25 447.75,717.38 454,712.38 459.5,708.62 465.25,704.25 471.5,698.62 476.5,694.88 482.75,689.88 487.75,687.38 494,682.38 499.5,678 505.25,674.25 512,671.12 517,669.5 523.25,668.25 529.5,668.25 537,668.62 543.5,669.25 551.5,669.25 559.5,667 567.5,665.25 575.5,663 582,660.5 589.5,659.88 595.5,658.25 603.5,658.25 611.5,658.25 617,658.62 622,659.5 627.5,658.62 635.5,658 640,657 645,655.25 651.25,654.25 657.5,653.25 663.5,653.25 668.75,653.25 675,654.25 681.25,656.12 690,656.5 702.5,656.5 715,656.5 721.25,657.38 727.5,658.25 732.5,660.5 738.75,662 745,663.62 750,665.25 755.5,665.5 768,665.75 774.25,665.25 779.25,664.25 786.75,665.5 793,667.75 799.25,670.75 805.5,674.88 811.75,679.25 818,684.88 823,689.88 827.5,693.25 831.75,695.5 838,697.38 843.5,698.25 849.25,700.5 855.5,703 860.5,705.75 864,708 870.25,714.25 876.5,720.5 882.75,726.12 889,729.88 895.25,732 901.5,732.38 907.75,730.5 914,726.12 919,722.38 923.5,719.25 927.75,717.12 931.5,716.12 935.88,715.5" fill="none" stroke="#FF0000" stroke-width="3" stroke-linejoin="round" shape-rendering="crispEdges"/>
<text x="6.5" y="662.8" font-size="14" textLength="193" lengthAdjust="spacingAndGlyphs">MACD(12,26,9) -108.41 -76.62</text>
<text x="965" y="661.3" font-size="14" textLength="34.5" lengthAdjust="spacingAndGlyphs">192.7</text>
<rect x="962" y="687" width="10" height="17" fill="#000" shape-rendering="crispEdges"/>
<text x="963" y="701" font-size="14" fill="#fff">0</text>
<text x="971.7" y="701" font-size="14" textLength="19.6" lengthAdjust="spacingAndGlyphs">.00</text>
<text x="964.5" y="737" font-size="14" textLength="48.5" lengthAdjust="spacingAndGlyphs">-178.72</text>
<text x="2.5" y="759" font-size="14" textLength="68.3" lengthAdjust="spacingAndGlyphs">8 Apr 2018</text>
<text x="130.5" y="759" font-size="14" textLength="79.6" lengthAdjust="spacingAndGlyphs">18 Nov 2018</text>
<text x="258.5" y="759" font-size="14" textLength="78" lengthAdjust="spacingAndGlyphs">30 Jun 2019</text>
<text x="386.5" y="759" font-size="14" textLength="69.6" lengthAdjust="spacingAndGlyphs">9 Feb 2020</text>
<text x="514.5" y="759" font-size="14" textLength="77.3" lengthAdjust="spacingAndGlyphs">20 Sep 2020</text>
<text x="642.5" y="759" font-size="14" textLength="72.3" lengthAdjust="spacingAndGlyphs">2 May 2021</text>
<text x="770.5" y="759" font-size="14" textLength="77.8" lengthAdjust="spacingAndGlyphs">12 Dec 2021</text>
<text x="898.5" y="759" font-size="14" textLength="71.3" lengthAdjust="spacingAndGlyphs">24 Jul 2022</text>
</svg></body></html>
